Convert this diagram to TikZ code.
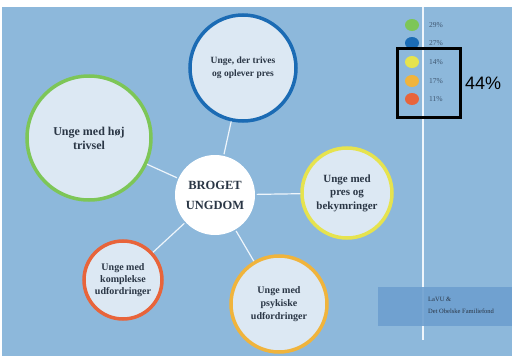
\documentclass[tikz,border=0pt]{standalone}
\usepackage{fontspec}
\setmainfont{Liberation Serif}
\setsansfont{Liberation Sans}
\usetikzlibrary{shapes.geometric}
\begin{document}
\begin{tikzpicture}[x=1pt,y=-1pt,
  bubble/.style={circle,draw,line width=3.5pt,fill=cfill,inner sep=0pt,align=center,text=ctext,font=\bfseries},
  link/.style={draw=clink,line width=1.2pt},
  dot/.style={ellipse,minimum width=14pt,minimum height=12pt,inner sep=0pt},
  pct/.style={anchor=west,text=ptext,font=\fontsize{7.5}{8}\selectfont,inner sep=0pt},
  credtext/.style={anchor=west,inner sep=0pt,text=ctext,font=\fontsize{6.5}{7}\selectfont}]
\definecolor{bg}{HTML}{8DB8DB}
\definecolor{cfill}{HTML}{DCE8F3}
\definecolor{cgreen}{HTML}{7DC657}
\definecolor{cblue}{HTML}{1B6BB4}
\definecolor{cyellow}{HTML}{E6E34E}
\definecolor{corange}{HTML}{F0B43C}
\definecolor{cred}{HTML}{E8643A}
\definecolor{clink}{HTML}{EEF5FB}
\definecolor{credit}{HTML}{6D9FCF}
\definecolor{ctext}{HTML}{2A3645}
\definecolor{ptext}{HTML}{3E5670}
\useasboundingbox (0,0) rectangle (512,356);
\fill[white] (0,0) rectangle (512,356);
\fill[bg] (2,7) rectangle (512,356);
% vertical line
\draw[clink,line width=2pt] (423,7) -- (423,340);
% credit strip
\fill[credit,fill opacity=0.9] (378,287) rectangle (512,326);
\node[credtext] (cr1) at (428,299) {LaVU \&};
\node[credtext] (cr2) at (428,311) {Det Obelske Familiefond};
% bubbles
\node[bubble,minimum size=80pt,draw=none,fill=white,font=\bfseries\fontsize{12.5}{20}\selectfont] (c) at (215,195) {BROGET\\UNGDOM};
\node[bubble,draw=cblue,minimum size=106pt,font=\bfseries\fontsize{9.5}{13}\selectfont] (t) at (243,68) {Unge, der trives\\og oplever pres};
\node[bubble,draw=cgreen,minimum size=124pt,font=\bfseries\fontsize{12}{14}\selectfont] (l) at (89,138) {Unge med høj\\trivsel};
\node[bubble,draw=cyellow,minimum size=90pt,font=\bfseries\fontsize{11}{13.5}\selectfont] (r) at (347,193) {Unge med\\pres og\\bekymringer};
\node[bubble,draw=cred,minimum size=78pt,font=\bfseries\fontsize{10}{12}\selectfont] (bl) at (123,280) {Unge med\\komplekse\\udfordringer};
\node[bubble,draw=corange,minimum size=96pt,font=\bfseries\fontsize{10}{13}\selectfont] (b) at (279,304) {Unge med\\psykiske\\udfordringer};
\draw[link] (c) -- (t);
\draw[link] (c) -- (l);
\draw[link] (c) -- (r);
\draw[link] (c) -- (bl);
\draw[link] (c) -- (b);
% legend
\node[dot,fill=cgreen] (d1) at (412,25) {};
\node[dot,fill=cblue] (d2) at (412,43) {};
\node[dot,fill=cyellow] (d3) at (412,62) {};
\node[dot,fill=corange] (d4) at (412,81) {};
\node[dot,fill=cred] (d5) at (412,99) {};
\node[pct] (p1) at (429,25) {29\%};
\node[pct] (p2) at (429,43) {27\%};
\node[pct] (p3) at (429,62) {14\%};
\node[pct] (p4) at (429,81) {17\%};
\node[pct] (p5) at (429,99) {11\%};
\draw[black,line width=3pt] (397,48) rectangle (460,117);
\node[anchor=west,inner sep=0pt,font=\sffamily\fontsize{18}{20}\selectfont] (big) at (465,83) {44\%};
\end{tikzpicture}
\end{document}
